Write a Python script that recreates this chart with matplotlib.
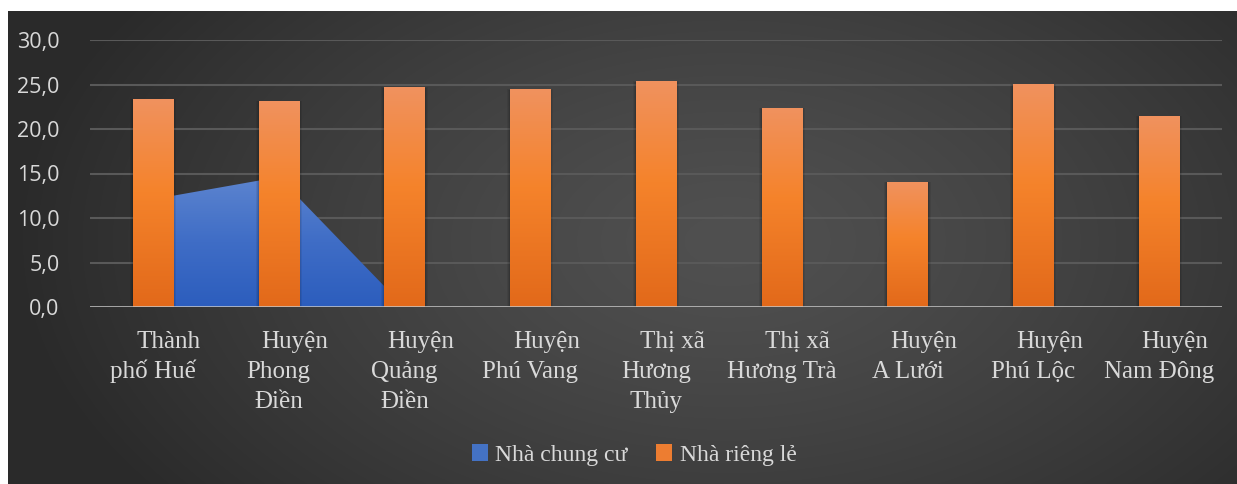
import numpy as np
import matplotlib.pyplot as plt
from matplotlib.patches import Rectangle, Patch
from matplotlib.colors import LinearSegmentedColormap

# data
categories = ["Thành\nphố Huế", "Huyện\nPhong\nĐiền", "Huyện\nQuảng\nĐiền", "Huyện\nPhú Vang",
              "Thị xã\nHương\nThủy", "Thị xã\nHương Trà", "Huyện\nA Lưới", "Huyện\nPhú Lộc",
              "Huyện\nNam Đông"]
chung_cu = [12.1, 14.6, 0, 0, 0, 0, 0, 0, 0]
rieng_le = [23.4, 23.2, 24.7, 24.5, 25.4, 22.4, 14.1, 25.1, 21.5]
yticks = [0, 5, 10, 15, 20, 25, 30]
ytick_labels = ["0,0", "5,0", "10,0", "15,0", "20,0", "25,0", "30,0"]

W, H = 1237, 484
fig = plt.figure(figsize=(W / 100, H / 100), dpi=100)
fig.patch.set_facecolor("white")

##### dark radial background
bg = fig.add_axes([8 / W, 0, 1 - 8 / W, 1 - 11 / H])
bg.set_axis_off()
gx, gy = np.meshgrid(np.arange(W - 8), np.arange(H - 11))
r = np.sqrt(((gx - 720) / 720.0) ** 2 + ((gy - 230) / 430.0) ** 2)
r = np.clip(r, 0, 1) ** 1.3
light = np.array([80, 80, 80]) / 255.0
dark = np.array([42, 42, 42]) / 255.0
img = light[None, None, :] * (1 - r[..., None]) + dark[None, None, :] * r[..., None]
bg.imshow(img, aspect="auto", extent=(0, 1, 0, 1), origin="upper")
bg.set_xlim(0, 1)
bg.set_ylim(0, 1)

##### main axes
ax = fig.add_axes([90 / W, (H - 307) / H, (1222 - 90) / W, (307 - 40) / H])
ax.set_facecolor("none")
x = np.arange(len(categories))
ax.set_xlim(-0.5, len(categories) - 0.5)
ax.set_ylim(0, 30)

for t in yticks[1:]:
    ax.axhline(t, color="#595959", lw=1.5, zorder=1)

# area (Nhà chung cư) with vertical gradient
area = ax.fill_between(x, 0, chung_cu, facecolor="none", edgecolor="none", zorder=2)
blue = LinearSegmentedColormap.from_list("b", ["#2c5dbd", "#3f6dc6", "#5c84cf"])
grad = np.linspace(0, 1, 256).reshape(-1, 1)
im = ax.imshow(grad, cmap=blue, aspect="auto", origin="lower",
               extent=(x[0], x[-1], 0, max(chung_cu)), zorder=2)
im.set_clip_path(area.get_paths()[0], transform=ax.transData)

# bars (Nhà riêng lẻ) with gradient and soft shadow
orange = LinearSegmentedColormap.from_list("o", [(0, "#e2691a"), (0.55, "#f5832b"), (1, "#f0925f")])
bw = 0.32
for xi, v in zip(x, rieng_le):
    for k, a in [(0.06, 0.07), (0.04, 0.08), (0.02, 0.1)]:
        ax.add_patch(Rectangle((xi - bw / 2 - k * 0.4, -0.15), bw + k * 0.8, v + k * 2,
                               facecolor="black", alpha=a, lw=0, zorder=3))
    rect = Rectangle((xi - bw / 2, 0), bw, v, facecolor="none", lw=0, zorder=4)
    ax.add_patch(rect)
    bim = ax.imshow(grad, cmap=orange, aspect="auto", origin="lower",
                    extent=(xi - bw / 2, xi + bw / 2, 0, v), zorder=4)
    bim.set_clip_path(rect)

ax.set_xlim(-0.5, len(categories) - 0.5)
ax.set_ylim(0, 30)
ax.axhline(0, color="#c8c8c8", lw=2, alpha=0.85, zorder=5)

for s in ax.spines.values():
    s.set_visible(False)
ax.set_xticks([])
ax.set_yticks(yticks)
ax.set_yticklabels(ytick_labels, fontsize=15.5, color="#d9d9d9", family="Open Sans")
ax.tick_params(axis="y", length=0, pad=22)

# category labels, Excel puts the first wrapped line a bit to the right
for xi, lab in zip(x, categories):
    for n, line in enumerate(lab.split("\n")):
        ax.annotate(line, xy=(xi, 0), xycoords=("data", "axes fraction"),
                    xytext=(16 if n == 0 else 0, -41 - 30 * n), textcoords="offset pixels",
                    ha="center", va="baseline", fontsize=18, color="#d9d9d9",
                    family="Liberation Serif", annotation_clip=False)

handles = [Patch(facecolor="#4472c4", label="Nhà chung cư"),
           Patch(facecolor="#ed7d31", label="Nhà riêng lẻ")]
leg = fig.legend(handles=handles, loc="center", bbox_to_anchor=(634 / W, 1 - 455 / H),
                 ncol=2, frameon=False, prop={"family": "Liberation Serif", "size": 17},
                 handlelength=0.7, handleheight=0.7, handletextpad=0.3, columnspacing=1.2)
for t in leg.get_texts():
    t.set_color("#d9d9d9")

plt.savefig("out.png", dpi=100, facecolor=fig.get_facecolor())
